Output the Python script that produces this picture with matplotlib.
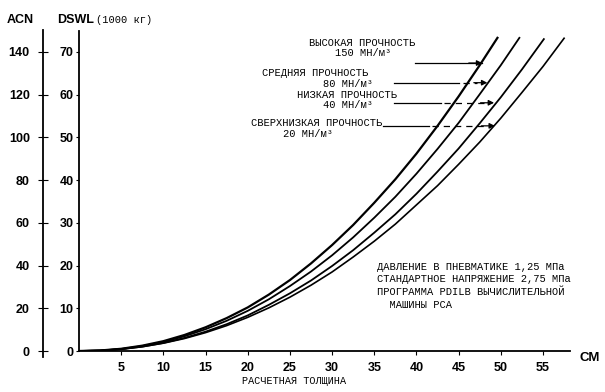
import numpy as np
import matplotlib
matplotlib.use("Agg")
import matplotlib.pyplot as plt

# thickness (cm) vs DSWL (1000 kg) for each subgrade strength
x_high = [0, 2.5, 5, 7.5, 10, 12.5, 15, 17.5, 20, 22.5, 25, 27.5, 30, 32.5, 35,
          37.5, 40, 42.5, 45, 47.5, 49.6]
y_high = [0, 0.12, 0.52, 1.25, 2.3, 3.75, 5.55, 7.7, 10.2, 13.2, 16.6, 20.5, 24.8,
          29.5, 34.7, 40.2, 46.2, 52.7, 59.6, 66.9, 73.3]
x_med = [0, 2.5, 5, 7.5, 10, 12.5, 15, 17.5, 20, 22.5, 25, 27.5, 30, 32.5, 35,
         37.5, 40, 42.5, 45, 47.5, 50, 52.2]
y_med = [0, 0.11, 0.48, 1.15, 2.13, 3.45, 5.1, 7.07, 9.4, 12.1, 15.2, 18.6, 22.4,
         26.6, 31.2, 36.1, 41.5, 47.3, 53.4, 60.1, 66.9, 73.3]
x_low = [0, 2.5, 5, 7.5, 10, 12.5, 15, 17.5, 20, 22.5, 25, 27.5, 30, 32.5, 35,
         37.5, 40, 42.5, 45, 47.5, 50, 52.5, 55.1]
y_low = [0, 0.1, 0.43, 1.02, 1.89, 3.06, 4.52, 6.27, 8.33, 10.8, 13.5, 16.5, 19.9,
         23.6, 27.7, 32.0, 36.8, 42.0, 47.4, 53.3, 59.4, 65.9, 73.0]
x_vlow = [0, 2.5, 5, 7.5, 10, 12.5, 15, 17.5, 20, 22.5, 25, 27.5, 30, 32.5, 35,
          37.5, 40, 42.5, 45, 47.5, 50, 52.5, 55, 57.5]
y_vlow = [0, 0.1, 0.42, 1.0, 1.83, 2.92, 4.3, 5.94, 7.88, 10.1, 12.6, 15.4, 18.5,
          22.0, 25.7, 29.7, 34.2, 38.7, 43.7, 48.9, 54.5, 60.5, 66.6, 73.2]

x_ticks = [5, 10, 15, 20, 25, 30, 35, 40, 45, 50, 55]
dswl_ticks = [0, 10, 20, 30, 40, 50, 60, 70]
acn_ticks = [0, 20, 40, 60, 80, 100, 120, 140]

mono = "Liberation Mono"
sans = "Liberation Sans"

W, H = 605, 392
fig = plt.figure(figsize=(6.05, 3.92), dpi=100)

# main axes: x=0 at px 79, y=0 at px 351
ax = fig.add_axes([79 / W, 1 - 351 / H, (570 - 79) / W, (351 - 31) / H])
ax.set_xlim(0, 58.2)
ax.set_ylim(0, 74.9)
for s in ["top", "right"]:
    ax.spines[s].set_visible(False)
ax.spines["left"].set_linewidth(1.3)
ax.spines["bottom"].set_linewidth(1.3)
ax.set_xticks(x_ticks)
ax.set_yticks(dswl_ticks)
ax.tick_params(axis="x", length=3, width=0.8, pad=5, labelsize=9)
ax.tick_params(axis="y", length=2, width=0.8, pad=2, labelsize=9)
for lab in ax.get_xticklabels() + ax.get_yticklabels():
    lab.set_fontfamily(sans)
    lab.set_fontweight("bold")

ax.plot(x_high, y_high, color="black", lw=1.6)
ax.plot(x_med, y_med, color="black", lw=1.3)
ax.plot(x_low, y_low, color="black", lw=1.3)
ax.plot(x_vlow, y_vlow, color="black", lw=1.2)

# ACN axis on the far left
acn = fig.add_axes([43 / W, 1 - 357 / H, 0.0001, (357 - 30) / H])
acn.set_ylim(-2.8, 150.3)
acn.set_xticks([])
for s in ["top", "right", "bottom"]:
    acn.spines[s].set_visible(False)
acn.spines["left"].set_linewidth(1.3)
acn.set_yticks(acn_ticks)
acn.tick_params(axis="y", direction="inout", length=7, width=0.8, pad=6, labelsize=9)
for lab in acn.get_yticklabels():
    lab.set_fontfamily(sans)
    lab.set_fontweight("bold")
acn.patch.set_visible(False)

# axis titles
fig.text(20 / W, 1 - 20 / H, "ACN", ha="center", va="center",
         fontsize=9, fontweight="bold", family=sans)
fig.text(57 / W, 1 - 20 / H, "DSWL", ha="left", va="center",
         fontsize=9, fontweight="bold", family=sans)
fig.text(96 / W, 1 - 20 / H, "(1000 кг)", ha="left", va="center",
         fontsize=7.5, family=mono)
fig.text(590 / W, 1 - 358 / H, "СМ", ha="center", va="center",
         fontsize=9.5, fontweight="bold", family=sans)
fig.text(242 / W, 1 - 381 / H, "РАСЧЕТНАЯ ТОЛЩИНА", ha="left", va="center",
         fontsize=7.3, family=mono)

# curve labels
labels = [
    (309, 43, "ВЫСОКАЯ ПРОЧНОСТЬ"), (335, 53, "150 МН/м³"),
    (262, 73, "СРЕДНЯЯ ПРОЧНОСТЬ"), (323, 84, "80 МН/м³"),
    (297, 95, "НИЗКАЯ ПРОЧНОСТЬ"), (323, 105, "40 МН/м³"),
    (251, 123, "СВЕРХНИЗКАЯ ПРОЧНОСТЬ"), (283, 134, "20 МН/м³"),
]
for px, py, t in labels:
    fig.text(px / W, 1 - py / H, t, ha="left", va="center", fontsize=7.5, family=mono)

notes = [
    "ДАВЛЕНИЕ В ПНЕВМАТИКЕ 1,25 МПа",
    "СТАНДАРТНОЕ НАПРЯЖЕНИЕ 2,75 МПа",
    "ПРОГРАММА PDILB ВЫЧИСЛИТЕЛЬНОЙ",
    "  МАШИНЫ PCA",
]
for i, t in enumerate(notes):
    fig.text(377 / W, 1 - (267 + 12.5 * i) / H, t, ha="left", va="center",
             fontsize=7.5, family=mono)

# pointer arrows: (y, solid start, solid end, tip)
arrows = [
    (67.4, 39.8, 47.8, 47.8),
    (62.8, 37.3, 45.1, 48.4),
    (58.1, 37.3, 42.9, 49.2),
    (52.7, 36.0, 41.5, 49.3),
]
for y, x0, x1, tip in arrows:
    ax.plot([x0, x1], [y, y], color="black", lw=0.9)
    if tip > x1:
        ax.plot([x1 + 0.4, tip - 1.2], [y, y], color="black", lw=0.9, ls=(0, (5, 4)))
    ax.annotate("", xy=(tip, y), xytext=(tip - 1.6, y),
                arrowprops=dict(arrowstyle="-|>", color="black", lw=0.9,
                                mutation_scale=8, shrinkA=0, shrinkB=0))

fig.savefig("out.png", dpi=100)
